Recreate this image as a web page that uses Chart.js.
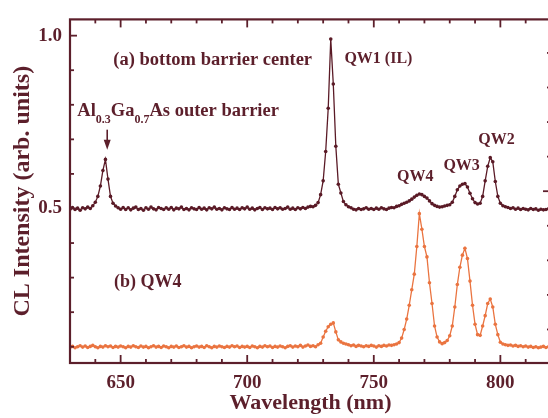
<!DOCTYPE html>
<html>
<head>
   <title>CL Intensity</title>
   <meta charset="UTF-8">
   <script src="https://cdn.jsdelivr.net/npm/chart.js"></script>
   <style>
       html, body {
           margin: 0;
           padding: 0;
           overflow: hidden;
           background: white;
       }
       .wrap {
           position: relative;
           width: 556px;
           height: 418px;
       }
   </style>
</head>
<body>
   <div class="wrap">
       <canvas id="clGrafik"></canvas>
   </div>

   <script>
       // Data, one point per nm starting at 630 nm
       const wavelengthStart = 630;

       // (a) bottom barrier center
       const intensityA = [
           0.498, 0.503, 0.497, 0.501, 0.495, 0.502, 0.499, 0.504, 0.500, 0.508,
           0.518, 0.535, 0.565, 0.610, 0.642, 0.585, 0.535, 0.515, 0.507, 0.502,
           0.498, 0.503, 0.497, 0.502, 0.496, 0.501, 0.504, 0.497, 0.500, 0.495,
           0.502, 0.498, 0.504, 0.499, 0.496, 0.503, 0.500, 0.497, 0.502, 0.498,
           0.503, 0.496, 0.501, 0.499, 0.504, 0.497, 0.500, 0.496, 0.502, 0.499,
           0.497, 0.503, 0.498, 0.501, 0.496, 0.502, 0.499, 0.504, 0.498, 0.500,
           0.496, 0.502, 0.499, 0.497, 0.503, 0.498, 0.501, 0.497, 0.502, 0.499,
           0.504, 0.498, 0.501, 0.496, 0.500, 0.503, 0.497, 0.502, 0.499, 0.501,
           0.497, 0.503, 0.499, 0.502, 0.498, 0.500, 0.504, 0.498, 0.501, 0.497,
           0.502, 0.499, 0.503, 0.500, 0.504, 0.506, 0.505, 0.509, 0.517, 0.540,
           0.580, 0.665, 0.790, 0.990, 0.860, 0.680, 0.570, 0.545, 0.520, 0.511,
           0.505, 0.502, 0.498, 0.496, 0.500, 0.497, 0.499, 0.502, 0.498, 0.500,
           0.497, 0.501, 0.498, 0.502, 0.499, 0.497, 0.501, 0.503, 0.502, 0.506,
           0.508, 0.512, 0.515, 0.518, 0.522, 0.527, 0.533, 0.538, 0.542, 0.540,
           0.535, 0.530, 0.522, 0.514, 0.509, 0.506, 0.504, 0.505, 0.507, 0.509,
           0.511, 0.518, 0.535, 0.554, 0.565, 0.570, 0.572, 0.562, 0.544, 0.528,
           0.517, 0.513, 0.515, 0.535, 0.580, 0.622, 0.647, 0.635, 0.578, 0.535,
           0.515, 0.508, 0.505, 0.503, 0.500, 0.502, 0.498, 0.501, 0.497, 0.500,
           0.498, 0.496, 0.500, 0.497, 0.499, 0.495, 0.498, 0.496, 0.497, 0.499,
           0.497
       ];

       // (b) QW4
       const intensityB = [
           0.098, 0.101, 0.097, 0.100, 0.103, 0.099, 0.102, 0.098, 0.101, 0.104,
           0.100, 0.097, 0.101, 0.099, 0.103, 0.100, 0.102, 0.098, 0.101, 0.099,
           0.102, 0.100, 0.097, 0.101, 0.099, 0.103, 0.100, 0.098, 0.102, 0.099,
           0.101, 0.097, 0.100, 0.103, 0.099, 0.101, 0.098, 0.102, 0.100, 0.097,
           0.101, 0.099, 0.102, 0.098, 0.100, 0.103, 0.099, 0.101, 0.097, 0.100,
           0.102, 0.099, 0.101, 0.098, 0.103, 0.100, 0.097, 0.101, 0.099, 0.102,
           0.100, 0.098, 0.101, 0.099, 0.103, 0.100, 0.102, 0.098, 0.101, 0.099,
           0.101, 0.098, 0.102, 0.100, 0.097, 0.101, 0.099, 0.103, 0.100, 0.102,
           0.098, 0.101, 0.099, 0.102, 0.100, 0.097, 0.101, 0.103, 0.099, 0.102,
           0.100, 0.104, 0.099, 0.102, 0.105, 0.101, 0.103, 0.100, 0.106, 0.110,
           0.128, 0.145, 0.158, 0.165, 0.169, 0.143, 0.120, 0.114, 0.110, 0.108,
           0.106, 0.103, 0.105, 0.101, 0.104, 0.102, 0.100, 0.103, 0.101, 0.104,
           0.102, 0.099, 0.103, 0.101, 0.104, 0.102, 0.105, 0.104, 0.106, 0.108,
           0.112, 0.125, 0.150, 0.180, 0.220, 0.265, 0.310, 0.390, 0.485, 0.440,
           0.390, 0.360, 0.285, 0.225, 0.160, 0.128, 0.114, 0.109, 0.112, 0.118,
           0.132, 0.160, 0.215, 0.280, 0.330, 0.365, 0.385, 0.355, 0.290, 0.220,
           0.165, 0.135, 0.133, 0.160, 0.190, 0.225, 0.238, 0.215, 0.165, 0.135,
           0.113, 0.108, 0.106, 0.104, 0.105, 0.102, 0.104, 0.101, 0.103, 0.100,
           0.102, 0.099, 0.101, 0.098, 0.100, 0.097, 0.099, 0.101, 0.098, 0.100,
           0.099
       ];

       // Axis ticks
       const xMajorTicks = [650, 700, 750, 800];
       const xMinorTicks = [640, 650, 660, 670, 680, 690, 700, 710, 720, 730, 740, 750, 760, 770, 780, 790, 800, 810];
       const yMajorTicks = [0.5, 1.0];
       const yMinorTicks = [0.1, 0.2, 0.3, 0.4, 0.5, 0.6, 0.7, 0.8, 0.9, 1.0];
       const yRightTicks = [0.15, 0.25, 0.35, 0.45, 0.55, 0.65, 0.75, 0.85, 0.95];
       const yRightMajor = [0.55];

       const wavelengths = intensityA.map((_, i) => wavelengthStart + i);

       const axisRenk = '#5c1f2b';
       const renkA = '#5a1a26';
       const renkB = '#ea7440';
       const yazi = "'Liberation Serif', 'DejaVu Serif', serif";

       // Text annotations, placed in data coordinates
       const etiketler = [
           { text: '(a) bottom barrier center', x: 647.1, y: 0.914, size: 18.5 },
           { text: 'QW1 (IL)', x: 738.4, y: 0.921, size: 16 },
           { text: 'QW4', x: 759.2, y: 0.579, size: 16 },
           { text: 'QW3', x: 777.5, y: 0.611, size: 16 },
           { text: 'QW2', x: 791.3, y: 0.687, size: 16 },
           { text: '(b) QW4', x: 647.4, y: 0.272, size: 18 }
       ];

       function cizgi(ctx, x1, y1, x2, y2) {
           ctx.beginPath();
           ctx.moveTo(x1, y1);
           ctx.lineTo(x2, y2);
           ctx.stroke();
       }

       // Frame, inward ticks and text labels
       const susPlugin = {
           id: 'sus',
           afterDraw(chart) {
               const ctx = chart.ctx;
               const a = chart.chartArea;
               const x = chart.scales.x;
               const y = chart.scales.y;
               ctx.save();
               ctx.strokeStyle = axisRenk;
               ctx.lineWidth = 2.2;
               ctx.strokeRect(a.left, a.top, a.right - a.left, a.bottom - a.top);

               ctx.lineWidth = 1.8;
               xMinorTicks.forEach(v => {
                   const px = x.getPixelForValue(v);
                   const len = xMajorTicks.includes(v) ? 8 : 4;
                   cizgi(ctx, px, a.bottom, px, a.bottom - len);
                   cizgi(ctx, px, a.top, px, a.top + len);
               });
               yMinorTicks.forEach(v => {
                   const py = y.getPixelForValue(v);
                   const len = yMajorTicks.includes(v) ? 7 : 4;
                   cizgi(ctx, a.left, py, a.left + len, py);
               });
               yRightTicks.forEach(v => {
                   const py = y.getPixelForValue(v);
                   const len = yRightMajor.includes(v) ? 8 : 4;
                   cizgi(ctx, a.right, py, a.right - len, py);
               });

               ctx.fillStyle = axisRenk;
               ctx.textBaseline = 'alphabetic';
               ctx.textAlign = 'left';
               etiketler.forEach(e => {
                   ctx.font = 'bold ' + e.size + 'px ' + yazi;
                   ctx.fillText(e.text, x.getPixelForValue(e.x), y.getPixelForValue(e.y));
               });

               // Al0.3Ga0.7As outer barrier with subscripts
               let px = x.getPixelForValue(632.9);
               const py = y.getPixelForValue(0.767);
               const parcalar = [['Al', false], ['0.3', true], ['Ga', false], ['0.7', true], ['As outer barrier', false]];
               parcalar.forEach(p => {
                   ctx.font = p[1] ? 'bold 12px ' + yazi : 'bold 18.5px ' + yazi;
                   ctx.fillText(p[0], px, p[1] ? py + 7 : py);
                   px += ctx.measureText(p[0]).width;
               });

               // arrow to the barrier peak
               const ax = x.getPixelForValue(644.7);
               const ay1 = y.getPixelForValue(0.728);
               const ay2 = y.getPixelForValue(0.670);
               ctx.lineWidth = 1.6;
               cizgi(ctx, ax, ay1, ax, ay2 - 6);
               ctx.beginPath();
               ctx.moveTo(ax, ay2);
               ctx.lineTo(ax - 3.5, ay2 - 10);
               ctx.lineTo(ax + 3.5, ay2 - 10);
               ctx.closePath();
               ctx.fill();
               ctx.restore();
           }
       };

       const ctx = document.getElementById('clGrafik').getContext('2d');
       new Chart(ctx, {
           type: 'line',
           data: {
               labels: wavelengths,
               datasets: [{
                   label: '(a) bottom barrier center',
                   data: intensityA,
                   borderColor: renkA,
                   backgroundColor: renkA,
                   borderWidth: 1.3,
                   pointRadius: 1.8,
                   pointBorderWidth: 0
               }, {
                   label: '(b) QW4',
                   data: intensityB,
                   borderColor: renkB,
                   backgroundColor: renkB,
                   borderWidth: 1.3,
                   pointRadius: 1.8,
                   pointBorderWidth: 0
               }]
           },
           options: {
               responsive: true,
               maintainAspectRatio: false,
               animation: false,
               layout: { padding: { top: 9, right: 5, left: 0, bottom: 0 } },
               plugins: {
                   legend: { display: false },
                   tooltip: { enabled: false }
               },
               scales: {
                   x: {
                       type: 'linear',
                       min: 630,
                       max: 820,
                       grid: { display: false, drawTicks: false },
                       border: { display: false },
                       afterFit: s => { s.height = 55; },
                       afterBuildTicks: s => { s.ticks = xMajorTicks.map(v => ({ value: v })); },
                       ticks: {
                           padding: 9,
                           color: axisRenk,
                           font: { family: yazi, size: 19, weight: 'bold' },
                           maxRotation: 0,
                           autoSkip: false,
                           callback: v => String(v)
                       },
                       title: {
                           display: true,
                           text: 'Wavelength (nm)',
                           color: axisRenk,
                           font: { family: yazi, size: 22, weight: 'bold' },
                           padding: { top: 0, bottom: 1 }
                       }
                   },
                   y: {
                       min: 0.053,
                       max: 1.047,
                       grid: { display: false, drawTicks: false },
                       border: { display: false },
                       afterFit: s => { s.width = 70; },
                       afterBuildTicks: s => { s.ticks = yMajorTicks.map(v => ({ value: v })); },
                       ticks: {
                           padding: 8,
                           color: axisRenk,
                           font: { family: yazi, size: 19, weight: 'bold' },
                           autoSkip: false,
                           callback: v => v.toFixed(1)
                       },
                       title: {
                           display: true,
                           text: 'CL Intensity (arb. units)',
                           color: axisRenk,
                           font: { family: yazi, size: 24, weight: 'bold' },
                           padding: { top: 8, bottom: 0 }
                       }
                   }
               }
           },
           plugins: [susPlugin]
       });
   </script>
</body>
</html>
